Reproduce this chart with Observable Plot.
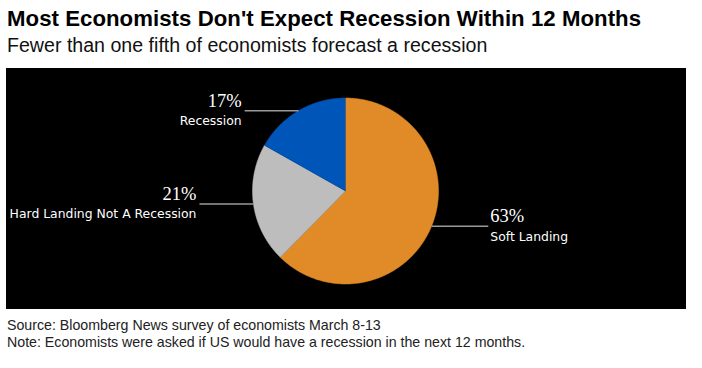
<!DOCTYPE html>
<html>
<head>
<meta charset="utf-8">
<script src="https://cdn.jsdelivr.net/npm/d3@7"></script>
<script src="https://cdn.jsdelivr.net/npm/@observablehq/plot@0.6"></script>
<style>
  html, body { margin: 0; padding: 0; background: #fff; }
  #wrap { padding-left: 6px; font-family: "Liberation Sans", Arial, sans-serif; color: #000; }
  #title { margin: 7px 0 0 1px; font-size: 22.2px; line-height: 24px; font-weight: bold; white-space: nowrap; letter-spacing: 0.05px; }
  #subtitle { margin: 3px 0 0 1px; font-size: 19.6px; line-height: 22px; color: #111; white-space: nowrap; }
  #chart { margin-top: 12px; height: 241px; }
  #chart svg { display: block; }
  .foot { margin-left: 1px; font-size: 14.2px; line-height: 16.5px; color: #222; white-space: nowrap; }
  #source { margin-top: 8px; }
</style>
</head>
<body>
<div id="wrap">
  <div id="title">Most Economists Don't Expect Recession Within 12 Months</div>
  <div id="subtitle">Fewer than one fifth of economists forecast a recession</div>
  <div id="chart"></div>
  <div class="foot" id="source">Source: Bloomberg News survey of economists March 8-13</div>
  <div class="foot" id="note">Note: Economists were asked if US would have a recession in the next 12 months.</div>
</div>
<script>
// Data
const categories = ["Soft Landing", "Hard Landing Not A Recession", "Recession"];
const values = [63, 21, 17];
const percentLabels = ["63%", "21%", "17%"];
const colors = ["#E08B27", "#BDBDBD", "#0055B8"];

const slices = categories.map((c, i) => ({category: c, value: values[i], pct: percentLabels[i]}));
const arcs = d3.pie().sort(null).value(d => d.value)(slices);

// wedge polygons in unit-circle data space (y up), angles clockwise from 12 o'clock
const wedgePts = [];
arcs.forEach(a => {
  const n = Math.max(2, Math.ceil((a.endAngle - a.startAngle) / (Math.PI / 360)));
  wedgePts.push({category: a.data.category, x: 0, y: 0});
  for (let k = 0; k <= n; k++) {
    const t = a.startAngle + (a.endAngle - a.startAngle) * k / n;
    wedgePts.push({category: a.data.category, x: Math.sin(t), y: Math.cos(t)});
  }
});

const leader = 0.58; // leader length in radius units
const labels = arcs.map(a => {
  const m = (a.startAngle + a.endAngle) / 2;
  const x1 = Math.sin(m), y1 = Math.cos(m);
  const right = x1 >= 0;
  return {category: a.data.category, pct: a.data.pct, x1, y1, x2: x1 + (right ? leader + 0.03 : -leader), right};
});

const R = 93, cx = 339, cy = 122.5;
const chart = Plot.plot({
  width: 680,
  height: 241,
  margin: 0,
  style: {background: "#000", overflow: "visible"},
  x: {domain: [-1, 1], range: [cx - R, cx + R], axis: null},
  y: {domain: [-1, 1], range: [cy + R, cy - R], axis: null},
  color: {domain: categories, range: colors},
  marks: [
    Plot.line(wedgePts, {x: "x", y: "y", z: "category", fill: "category", stroke: "category", strokeWidth: 0.5, curve: "linear"}),
    Plot.link(labels, {x1: "x1", y1: "y1", x2: "x2", y2: "y1", stroke: "#9a9a9a", strokeWidth: 1.5}),
    Plot.text(labels.filter(d => !d.right), {x: "x2", y: "y1", text: "pct", textAnchor: "end", dx: -3, dy: -10, fill: "#fff", fontSize: 18.5, fontFamily: "Liberation Serif, serif"}),
    Plot.text(labels.filter(d => d.right), {x: "x2", y: "y1", text: "pct", textAnchor: "start", dx: 2, dy: -10, fill: "#fff", fontSize: 18.5, fontFamily: "Liberation Serif, serif"}),
    Plot.text(labels.filter(d => !d.right), {x: "x2", y: "y1", text: "category", textAnchor: "end", dx: -3, dy: 10.5, fill: "#fff", fontSize: 12.4, fontFamily: "DejaVu Sans, sans-serif"}),
    Plot.text(labels.filter(d => d.right), {x: "x2", y: "y1", text: "category", textAnchor: "start", dx: 2, dy: 10.5, fill: "#fff", fontSize: 12.4, fontFamily: "DejaVu Sans, sans-serif"})
  ]
});
document.getElementById("chart").appendChild(chart);
</script>
</body>
</html>
